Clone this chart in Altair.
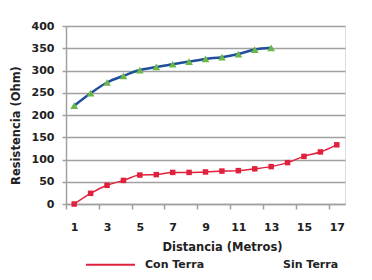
import altair as alt
import pandas as pd

distancia = list(range(1, 18))
con_terra = [0, 24, 42, 53, 65, 66, 71, 71, 72, 74, 75, 79, 84, 93, 107, 117, 133]
dist_sin = list(range(1, 14))
sin_terra = [221, 249, 273, 288, 301, 308, 314, 320, 326, 330, 337, 347, 351]
y_ticks = [0, 50, 100, 150, 200, 250, 300, 350, 400]
x_tick_edges = [0.5, 2.5, 4.5, 6.5, 8.5, 10.5, 12.5, 14.5, 16.5]

df = pd.concat([
    pd.DataFrame({"d": distancia, "r": con_terra, "serie": "Con Terra"}),
    pd.DataFrame({"d": dist_sin, "r": sin_terra, "serie": "Sin Terra"}),
], ignore_index=True)

FONT = "DejaVu Sans"
GRID = "#a0a0a0"
TXT = "#222222"

xscale = alt.Scale(domain=[0.5, 17.5], nice=False, zero=False)
yscale = alt.Scale(domain=[0, 400], nice=False)

xaxis = alt.Axis(values=x_tick_edges, labelExpr="datum.value + 0.5", labelOffset=8.2,
                 labelOverlap=False, labelFlush=False, tickCount=9,
                 tickSize=5, tickColor=GRID, tickWidth=1.5, domainColor=GRID, domainWidth=1.5,
                 labelPadding=12, grid=False, title="Distancia (Metros)", titlePadding=9,
                 titleX=156, titleAlign="center", labelFontSize=11, labelFontWeight="bold",
                 titleFontSize=11.5, titleFontWeight="bold")
yaxis = alt.Axis(values=y_ticks, tickCount=9, tickSize=4, tickColor=GRID, tickWidth=1.5,
                 domainColor=GRID, labelOverlap=False, labelFlush=False,
                 domainWidth=1.5, gridColor=GRID, gridWidth=1.5, labelPadding=8,
                 title="Resistencia (Ohm)", titlePadding=10, titleY=99, titleAlign="center",
                 labelFontSize=11, labelFontWeight="bold", titleFontSize=11.5,
                 titleFontWeight="bold")

base = alt.Chart(df).encode(
    x=alt.X("d:Q", scale=xscale, axis=xaxis),
    y=alt.Y("r:Q", scale=yscale, axis=yaxis),
)

color = alt.Color("serie:N", scale=alt.Scale(domain=["Con Terra", "Sin Terra"],
                                             range=["#e0203c", "#ffffff"]),
                  legend=alt.Legend(title=None, orient="none", legendX=19, legendY=213,
                                    direction="horizontal", columns=2, symbolType="stroke",
                                    symbolSize=2401, symbolStrokeWidth=2, labelOffset=9,
                                    columnPadding=15, labelFontSize=11, labelFontWeight="bold",
                                    labelColor=TXT))

con = base.transform_filter(alt.datum.serie == "Con Terra")
sin = base.transform_filter(alt.datum.serie == "Sin Terra")

red_line = con.mark_line(interpolate="monotone", strokeWidth=1.5).encode(color=color)
red_pts = con.mark_point(shape="square", filled=True, size=30, opacity=1, color="#e0203c")
blue_line = sin.mark_line(interpolate="monotone", strokeWidth=2.5, color="#1f4e9c")
green_pts = sin.mark_point(shape="triangle-up", filled=True, size=60, opacity=1, color="#6ab648")

chart = alt.layer(red_line, red_pts, blue_line, green_pts).properties(
    width=279, height=178,
    autosize=alt.AutoSizeParams(type="none"),
    padding={"left": 58, "top": 18, "right": 19, "bottom": 68},
    background="white",
).configure_view(stroke=None).configure(font=FONT).configure_axis(
    labelColor=TXT, titleColor=TXT, labelFont=FONT, titleFont=FONT
).configure_legend(labelFont=FONT)

chart.save("out.html", embed_options={"renderer": "svg", "actions": False})
